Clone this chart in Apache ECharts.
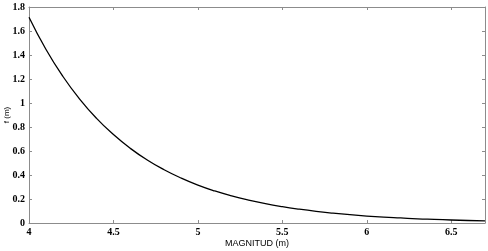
<!DOCTYPE html>
<html>
<head>
<meta charset="utf-8">
<script src="https://cdn.jsdelivr.net/npm/echarts@6/dist/echarts.min.js"></script>
<style>
  html, body { margin: 0; padding: 0; background: #fff; }
  #chart { width: 488px; height: 251px; }
</style>
</head>
<body>
<div id="chart"></div>
<script>
// magnitude (x) and f (m)
const magnitud = [4.0, 4.1, 4.2, 4.3, 4.4, 4.5, 4.6, 4.7, 4.8, 4.9, 5.0, 5.1, 5.2, 5.3,
  5.4, 5.5, 5.6, 5.7, 5.8, 5.9, 6.0, 6.1, 6.2, 6.3, 6.4, 6.5, 6.6, 6.7]
const fValues = [1.715, 1.448, 1.223, 1.033, 0.872, 0.737, 0.622, 0.525, 0.444, 0.375, 0.316,
  0.267, 0.226, 0.191, 0.161, 0.136, 0.115, 0.097, 0.082, 0.069, 0.058, 0.049, 0.042,
  0.035, 0.030, 0.025, 0.021, 0.018]

const xTicks = {min: 4, max: 6.7, interval: 0.5}
const yTicks = {min: 0, max: 1.8, interval: 0.2}

const frame = '#8c8c8c'
const labelFont = {color: '#000', fontFamily: 'Liberation Serif', fontWeight: 'bold', fontSize: 10}

const chart = echarts.init(document.getElementById('chart'))

const baseAxis = (pos, ticks, labels) => ({
  type: 'value',
  position: pos,
  min: ticks.min,
  max: ticks.max,
  interval: ticks.interval,
  axisLine: {show: true, onZero: false, lineStyle: {color: frame, width: 1}},
  axisTick: {show: true, inside: true, length: 3, lineStyle: {color: frame}},
  splitLine: {show: false},
  axisLabel: labels ? Object.assign({show: true, margin: 4}, labelFont) : {show: false}
})

const xBottom = baseAxis('bottom', xTicks, true)
xBottom.name = 'MAGNITUD (m)'
xBottom.nameLocation = 'middle'
xBottom.nameGap = 16
xBottom.nameMoveOverlap = false
xBottom.nameTextStyle = {color: '#000', fontFamily: 'Liberation Sans', fontSize: 9}
xBottom.axisLabel.showMaxLabel = false
xBottom.axisLabel.formatter = v => String(v)

const yLeft = baseAxis('left', yTicks, true)
yLeft.name = 'f (m)'
yLeft.nameLocation = 'middle'
yLeft.nameGap = 18
yLeft.nameMoveOverlap = false
yLeft.nameTextStyle = {color: '#000', fontFamily: 'Liberation Sans', fontSize: 8}
yLeft.axisLabel.formatter = v => String(Math.round(v * 10) / 10)

chart.setOption({
  animation: false,
  grid: {left: 29, right: 3, top: 7, bottom: 28, containLabel: false, outerBoundsMode: 'none'},
  xAxis: [xBottom, baseAxis('top', xTicks, false)],
  yAxis: [yLeft, baseAxis('right', yTicks, false)],
  series: [{
    type: 'line',
    data: magnitud.map((m, i) => [m, fValues[i]]),
    smooth: true,
    showSymbol: false,
    lineStyle: {color: '#000', width: 1.3}
  }]
})
</script>
</body>
</html>
